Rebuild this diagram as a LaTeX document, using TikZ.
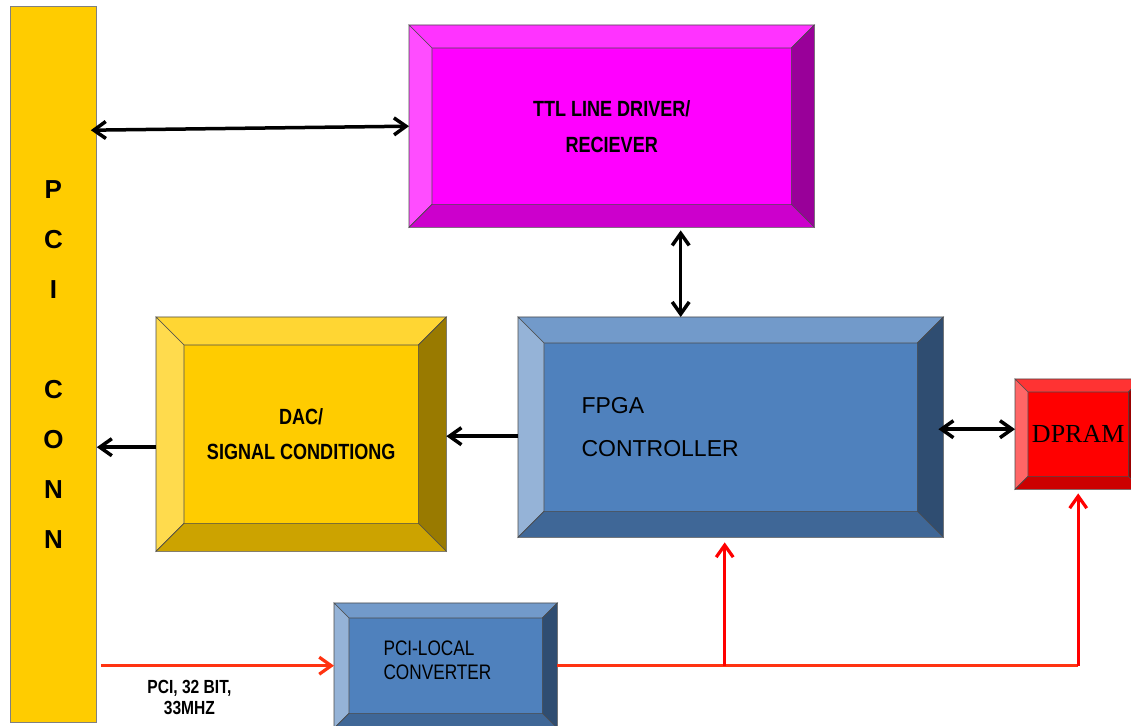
\documentclass[tikz,border=0pt]{standalone}
\usepackage{fontspec}
\setmainfont{Liberation Sans}
\newfontfamily\narrowfont[FakeStretch=0.82]{Liberation Sans}
\newfontfamily\dpramfont{Liberation Serif}
\usetikzlibrary{positioning,arrows.meta}

% face colours of the bevelled blocks: C centre, T top, L left, R right, B bottom
\definecolor{ttlC}{HTML}{FF00FF}\definecolor{ttlT}{HTML}{FF33FF}\definecolor{ttlL}{HTML}{FF4DFF}
\definecolor{ttlR}{HTML}{990099}\definecolor{ttlB}{HTML}{CC00CC}
\definecolor{dacC}{HTML}{FFCC00}\definecolor{dacT}{HTML}{FFD633}\definecolor{dacL}{HTML}{FFDB4D}
\definecolor{dacR}{HTML}{997A00}\definecolor{dacB}{HTML}{CCA300}
\definecolor{fpgC}{HTML}{4F81BD}\definecolor{fpgT}{HTML}{729ACA}\definecolor{fpgL}{HTML}{95B3D7}
\definecolor{fpgR}{HTML}{2F4D71}\definecolor{fpgB}{HTML}{3F6797}
\definecolor{ramC}{HTML}{FF0000}\definecolor{ramT}{HTML}{FF3333}\definecolor{ramL}{HTML}{FF6666}
\definecolor{ramR}{HTML}{990000}\definecolor{ramB}{HTML}{CC0000}
\definecolor{feedred}{HTML}{FF3311}

\newcommand{\bevelbox}[3]{%
	\def\bev{#2} % width of the bevelled rim
	\filldraw[facet,fill=#3T] (#1.north west) -- (#1.north east) -- ([shift={(-\bev,-\bev)}]#1.north east) -- ([shift={(\bev,-\bev)}]#1.north west) -- cycle;
	\filldraw[facet,fill=#3L] (#1.north west) -- ([shift={(\bev,-\bev)}]#1.north west) -- ([shift={(\bev,\bev)}]#1.south west) -- (#1.south west) -- cycle;
	\filldraw[facet,fill=#3R] (#1.north east) -- (#1.south east) -- ([shift={(-\bev,\bev)}]#1.south east) -- ([shift={(-\bev,-\bev)}]#1.north east) -- cycle;
	\filldraw[facet,fill=#3B] (#1.south west) -- ([shift={(\bev,\bev)}]#1.south west) -- ([shift={(-\bev,\bev)}]#1.south east) -- (#1.south east) -- cycle;
}

\begin{document}
\begin{tikzpicture}[x=1pt, y=1pt, font=\narrowfont\bfseries,
	blk/.style={inner sep=0pt, anchor=north west, align=center},
	facet/.style={draw=black!70, line width=0.6pt},
	link/.style={line width=3.5pt, black},
	feed/.style={line width=3.2pt, feedred},
	tap/.style={line width=3.2pt, red},
	>={Straight Barb[length=12pt,width=17pt]}]
	\useasboundingbox (0,0) rectangle (1131,725);
	\fill[white] (0,0) rectangle (1131,725);

	%--- PCI connector bar ---
	\node[blk, fill=dacC, draw=black!50, line width=0.8pt, minimum width=86pt, minimum height=716pt,
		font=\normalfont\bfseries\fontsize{26}{50}\selectfont] (pci) at (10,719) {P\\C\\I\\[50pt]C\\O\\N\\N};

	%--- bevelled blocks ---
	\node[blk, fill=ttlC, minimum width=405pt, minimum height=202pt,
		font=\narrowfont\bfseries\fontsize{22}{36}\selectfont] (ttl) at (409,700) {TTL LINE DRIVER/\\RECIEVER};
	\bevelbox{ttl}{23}{ttl}
	\node[blk, fill=dacC, minimum width=290pt, minimum height=234pt,
		font=\narrowfont\bfseries\fontsize{22}{35}\selectfont] (dac) at (156,408) {DAC/\\SIGNAL CONDITIONG};
	\bevelbox{dac}{28}{dac}
	\node[blk, fill=fpgC, minimum width=425pt, minimum height=220pt] (fpga) at (518,408) {};
	\bevelbox{fpga}{26}{fpg}
	\node[anchor=west, align=left, font=\normalfont\fontsize{23}{43}\selectfont] (fpgatxt) at ([xshift=60pt]fpga.west) {FPGA\\CONTROLLER};
	\node[blk, fill=ramC, minimum width=126pt, minimum height=110pt,
		font=\dpramfont\fontsize{26}{30}\selectfont] (dpram) at (1015,346) {DPRAM};
	\bevelbox{dpram}{13}{ram}
	\node[blk, fill=fpgC, minimum width=223pt, minimum height=125pt] (conv) at (334,122) {};
	\bevelbox{conv}{15}{fpg}
	\node[anchor=west, align=left, font=\narrowfont\mdseries\fontsize{21}{24}\selectfont] (convtxt) at ([xshift=46pt,yshift=5pt]conv.west) {PCI-LOCAL\\CONVERTER};

	%--- black data paths ---
	\coordinate (tf) at ([xshift=69pt]ttl.south);
	\draw[link, <->] ([xshift=-6pt,yshift=-4pt]pci.east |- ttl.west) -- (ttl.west);
	\draw[link, <->] ([yshift=-3pt]tf) -- (tf |- fpga.north);
	\draw[link, ->] ([yshift=-9pt]fpga.west) -- ([yshift=-9pt]fpga.west -| dac.east);
	\draw[link, ->] ([yshift=-13pt]dac.west) -- ([yshift=-13pt]dac.west -| pci.east);
	\draw[link, <->] ([xshift=-5pt,yshift=5pt]dpram.west -| fpga.east) -- ([yshift=5pt]dpram.west);

	%--- PCI bus and local bus (red) ---
	\draw[feed, ->] ([xshift=4pt]conv.west -| pci.east) -- (conv.west)
		node[pos=0.38, below=10pt, align=center, text=black, font=\narrowfont\bfseries\fontsize{19}{21}\selectfont] (rate) {PCI, 32 BIT,\\33MHZ};
	\coordinate (jf) at ([xshift=-6pt]conv.east -| fpga.south);
	\coordinate (jd) at (conv.east -| dpram.south);
	\draw[feed] (conv.east) -- (jd);
	\draw[tap, ->, shorten >=5pt] (jf) -- (jf |- fpga.south);
	\draw[tap, ->, shorten >=4pt] (jd) -- (dpram.south);
\end{tikzpicture}
\end{document}
